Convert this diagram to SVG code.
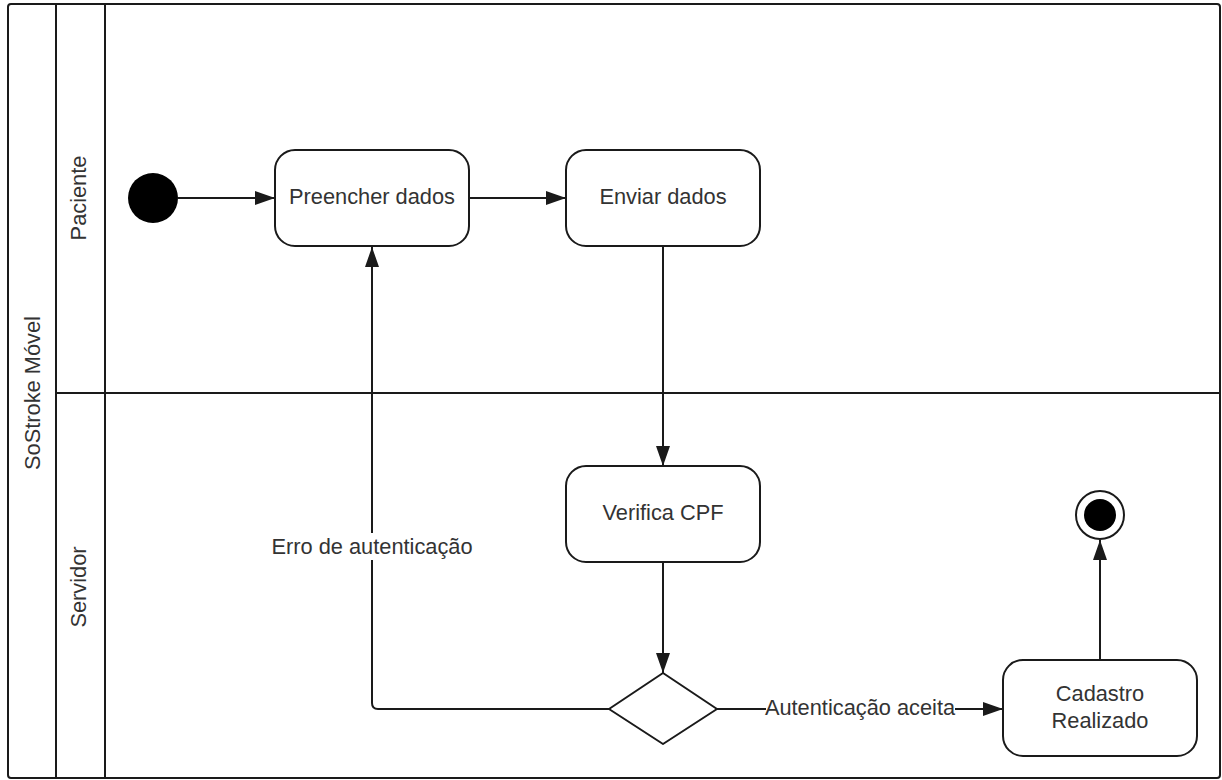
<svg xmlns="http://www.w3.org/2000/svg" width="1222" height="780" viewBox="0 0 1222 780">
  <style>
    .frame { fill: #ffffff; stroke: #1a1a1a; stroke-width: 2; }
    .line { fill: none; stroke: #1a1a1a; stroke-width: 2; }
    .act { fill: #ffffff; stroke: #1a1a1a; stroke-width: 2; }
    .lbl { font-family: "Liberation Sans", Arial, sans-serif; font-size: 21.8px; fill: #333333; text-anchor: middle; dominant-baseline: central; }
    .edge { fill: none; stroke: #1a1a1a; stroke-width: 2; }
  </style>
  <defs>
    <marker id="arrow" viewBox="0 0 20 14" markerWidth="20" markerHeight="14" refX="20" refY="7" orient="auto" markerUnits="userSpaceOnUse">
      <path d="M0,0 L20,7 L0,14 Z" fill="#1a1a1a"/>
    </marker>
  </defs>

  <rect width="1222" height="780" fill="#ffffff"/>

  <!-- pool and lanes -->
  <g id="pool">
    <rect class="frame" x="8" y="4" width="1212" height="774" rx="3"/>
    <line class="line" x1="56" y1="4" x2="56" y2="778"/>
    <line class="line" x1="105" y1="4" x2="105" y2="778"/>
    <line class="line" x1="56" y1="393" x2="1220" y2="393"/>
    <text class="lbl" transform="translate(32,393) rotate(-90)">SoStroke Móvel</text>
    <text class="lbl" transform="translate(78,198) rotate(-90)">Paciente</text>
    <text class="lbl" transform="translate(78,587) rotate(-90)">Servidor</text>
  </g>

  <!-- connectors -->
  <g id="connectors">
    <line class="edge" x1="178" y1="198" x2="275" y2="198" marker-end="url(#arrow)"/>
    <line class="edge" x1="469" y1="198" x2="566" y2="198" marker-end="url(#arrow)"/>
    <line class="edge" x1="663" y1="246" x2="663" y2="466" marker-end="url(#arrow)"/>
    <line class="edge" x1="663" y1="562" x2="663" y2="673" marker-end="url(#arrow)"/>
    <path class="edge" d="M609,709 L378,709 Q372,709 372,703 L372,560"/>
    <path class="edge" d="M372,533 L372,247" marker-end="url(#arrow)"/>
    <line class="edge" x1="717" y1="709" x2="766" y2="709"/>
    <line class="edge" x1="955" y1="709" x2="1003" y2="709" marker-end="url(#arrow)"/>
    <line class="edge" x1="1100" y1="660" x2="1100" y2="540" marker-end="url(#arrow)"/>
    <text class="lbl" x="372" y="546">Erro de autenticação</text>
    <text class="lbl" x="860" y="707">Autenticação aceita</text>
  </g>

  <g id="start">
    <circle cx="153" cy="198" r="25" fill="#000000"/>
  </g>

  <g id="preencher">
    <rect class="act" x="275" y="150" width="194" height="96" rx="20"/>
    <text class="lbl" x="372" y="196">Preencher dados</text>
  </g>

  <g id="enviar">
    <rect class="act" x="566" y="150" width="194" height="96" rx="20"/>
    <text class="lbl" x="663" y="196">Enviar dados</text>
  </g>

  <g id="verifica">
    <rect class="act" x="566" y="466" width="194" height="96" rx="20"/>
    <text class="lbl" x="663" y="512">Verifica CPF</text>
  </g>

  <g id="decisao">
    <path class="act" d="M663,673 L717,709 L663,744 L609,709 Z" stroke-linejoin="round"/>
  </g>

  <g id="cadastro">
    <rect class="act" x="1003" y="660" width="194" height="96" rx="20"/>
    <text class="lbl" x="1100" y="693">Cadastro</text>
    <text class="lbl" x="1100" y="720">Realizado</text>
  </g>

  <g id="fim">
    <circle cx="1100" cy="515" r="24" fill="#ffffff" stroke="#1a1a1a" stroke-width="2"/>
    <circle cx="1100" cy="515" r="16" fill="#000000"/>
  </g>
</svg>
